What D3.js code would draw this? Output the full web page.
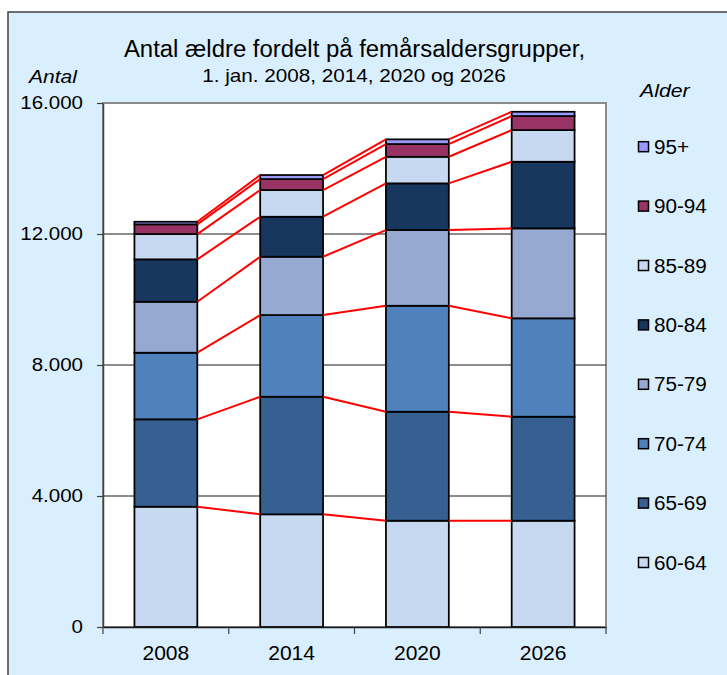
<!DOCTYPE html>
<html>
<head>
<meta charset="utf-8">
<script src="https://cdn.jsdelivr.net/npm/d3@7"></script>
<style>
  body { margin: 0; background: #fff; }
  svg text { font-family: "Liberation Sans", Arial, sans-serif; fill: #000; }
</style>
</head>
<body>
<svg id="chart" width="727" height="675"></svg>
<script>
// years on the x axis
var years = ["2008", "2014", "2020", "2026"];
// age groups, bottom of stack first
var ageGroups = ["60-64", "65-69", "70-74", "75-79", "80-84", "85-89", "90-94", "95+"];

// number of elderly per age group, one value per year
var age6064 = [3673, 3441, 3245, 3245];
var age6569 = [2668, 3590, 3328, 3176];
var age7074 = [2034, 2494, 3236, 3004];
var age7579 = [1556, 1781, 2311, 2747];
var age8084 = [1295, 1221, 1426, 2034];
var age8589 = [772, 815, 812, 967];
var age9094 = [296, 335, 388, 428];
var age95 = [80, 123, 144, 131];

var yTicks = [0, 4000, 8000, 12000, 16000];

var colors = {
  "60-64": "#c6d9f0",
  "65-69": "#366092",
  "70-74": "#4f81bd",
  "75-79": "#95a9d1",
  "80-84": "#17375e",
  "85-89": "#c6d9f0",
  "90-94": "#993366",
  "95+": "#9999ff",
};

var seriesValues = [age6064, age6569, age7074, age7579, age8084, age8589, age9094, age95];

// build rows {year, "60-64": .., ...} for d3.stack
var rows = years.map(function (yr, i) {
  var row = { year: yr };
  ageGroups.forEach(function (g, j) {
    row[g] = seriesValues[j][i];
  });
  return row;
});

var svg = d3.select("#chart");
var plot = { left: 103, right: 606, top: 103, bottom: 627 };

// text is a bit wide in the original, so stretch it horizontally
function addText(parent, x, y, str, size, sx, anchor, italic) {
  return parent
    .append("text")
    .attr("transform", `translate(${x},${y}) scale(${sx},1)`)
    .attr("text-anchor", anchor)
    .style("font-size", size + "px")
    .style("font-style", italic ? "italic" : "normal")
    .text(str);
}

// outer frame
svg
  .append("rect")
  .attr("x", 8)
  .attr("y", 12)
  .attr("width", 740)
  .attr("height", 700)
  .attr("fill", "#daeffd")
  .attr("stroke", "#404040")
  .attr("stroke-width", 1.5);

// plot area
svg
  .append("rect")
  .attr("x", plot.left)
  .attr("y", plot.top)
  .attr("width", plot.right - plot.left)
  .attr("height", plot.bottom - plot.top)
  .attr("fill", "#fff")
  .attr("stroke", "#8c8c8c")
  .attr("stroke-width", 2);

var x = d3
  .scaleBand()
  .domain(years)
  .range([plot.left, plot.right])
  .paddingInner(0.5)
  .paddingOuter(0.25);

var y = d3.scaleLinear().domain([0, 16000]).range([plot.bottom, plot.top]);

var da = d3.formatLocale({ decimal: ",", thousands: ".", grouping: [3], currency: ["", " kr."] });
var fmt = da.format(",");

// gridlines
svg
  .append("g")
  .selectAll("line")
  .data(yTicks.filter((d) => d > 0 && d < 16000))
  .enter()
  .append("line")
  .attr("x1", plot.left)
  .attr("x2", plot.right)
  .attr("y1", (d) => y(d))
  .attr("y2", (d) => y(d))
  .attr("stroke", "#1a1a1a")
  .attr("stroke-width", 1);

var stack = d3.stack().keys(ageGroups)(rows);

// bars
var layers = svg
  .append("g")
  .selectAll("g")
  .data(stack)
  .enter()
  .append("g")
  .attr("fill", (d) => colors[d.key]);

layers
  .selectAll("rect")
  .data((d) => d)
  .enter()
  .append("rect")
  .attr("x", (d) => x(d.data.year))
  .attr("width", x.bandwidth())
  .attr("y", (d) => y(d[1]))
  .attr("height", (d) => y(d[0]) - y(d[1]))
  .attr("stroke", "#000")
  .attr("stroke-width", 1.75);

// series lines between bars (red)
var seriesLines = [];
stack.forEach(function (layer) {
  for (var i = 0; i < years.length - 1; i++) {
    seriesLines.push({ from: layer[i], to: layer[i + 1] });
  }
});
svg
  .append("g")
  .selectAll("line")
  .data(seriesLines)
  .enter()
  .append("line")
  .attr("x1", (d) => x(d.from.data.year) + x.bandwidth())
  .attr("y1", (d) => y(d.from[1]))
  .attr("x2", (d) => x(d.to.data.year))
  .attr("y2", (d) => y(d.to[1]))
  .attr("stroke", "#ff0000")
  .attr("stroke-width", 2);

// y axis
var yAxis = svg
  .append("g")
  .attr("transform", `translate(${plot.left},0)`)
  .call(d3.axisLeft(y).tickValues(yTicks).tickFormat(fmt).tickSize(6).tickSizeOuter(0));
yAxis.select(".domain").attr("stroke", "#404040").attr("stroke-width", 1.5);
yAxis.selectAll(".tick line").attr("stroke", "#404040").attr("stroke-width", 1.2);
yAxis
  .selectAll(".tick text")
  .attr("x", null)
  .attr("transform", "translate(-20,0) scale(1.11,1)")
  .style("font-size", "18.5px");

// x axis, labels at bar centres
var xAxis = svg
  .append("g")
  .attr("transform", `translate(0,${plot.bottom})`)
  .call(d3.axisBottom(x).tickSize(0).tickSizeOuter(0));
xAxis.select(".domain").attr("stroke", "#1a1a1a").attr("stroke-width", 1.5);
xAxis
  .selectAll(".tick text")
  .attr("y", null)
  .attr("dy", null)
  .attr("transform", "translate(0,33) scale(1.08,1)")
  .style("font-size", "19.5px");

// x axis ticks sit between categories
var gap = (x.step() - x.bandwidth()) / 2;
var bounds = years.map((yr) => x(yr) - gap).concat([x.range()[1]]);
xAxis
  .selectAll(".bound")
  .data(bounds)
  .enter()
  .append("line")
  .attr("class", "bound")
  .attr("x1", (d) => d)
  .attr("x2", (d) => d)
  .attr("y1", 0)
  .attr("y2", 7)
  .attr("stroke", "#404040")
  .attr("stroke-width", 1.2);

// titles
addText(svg, 354.5, 57, "Antal ældre fordelt på femårsaldersgrupper,", 23, 1.04, "middle", false);
addText(svg, 354, 82, "1. jan. 2008, 2014, 2020 og 2026", 18, 1.15, "middle", false);
addText(svg, 29, 82.5, "Antal", 18, 1.17, "start", true);
addText(svg, 640, 96.5, "Alder", 18.5, 1.15, "start", true);

// legend, top item is last age group
var legend = svg
  .append("g")
  .selectAll("g")
  .data(ageGroups.slice().reverse())
  .enter()
  .append("g")
  .attr("transform", (d, i) => `translate(638,${146.7 + i * 59.4})`);

legend
  .append("rect")
  .attr("x", 0.5)
  .attr("y", -5)
  .attr("width", 10)
  .attr("height", 10)
  .attr("fill", (d) => colors[d])
  .attr("stroke", "#000")
  .attr("stroke-width", 1.5);

legend.each(function (d) {
  addText(d3.select(this), 16, 7, d, 19.5, 1.06, "start", false);
});
</script>
</body>
</html>
